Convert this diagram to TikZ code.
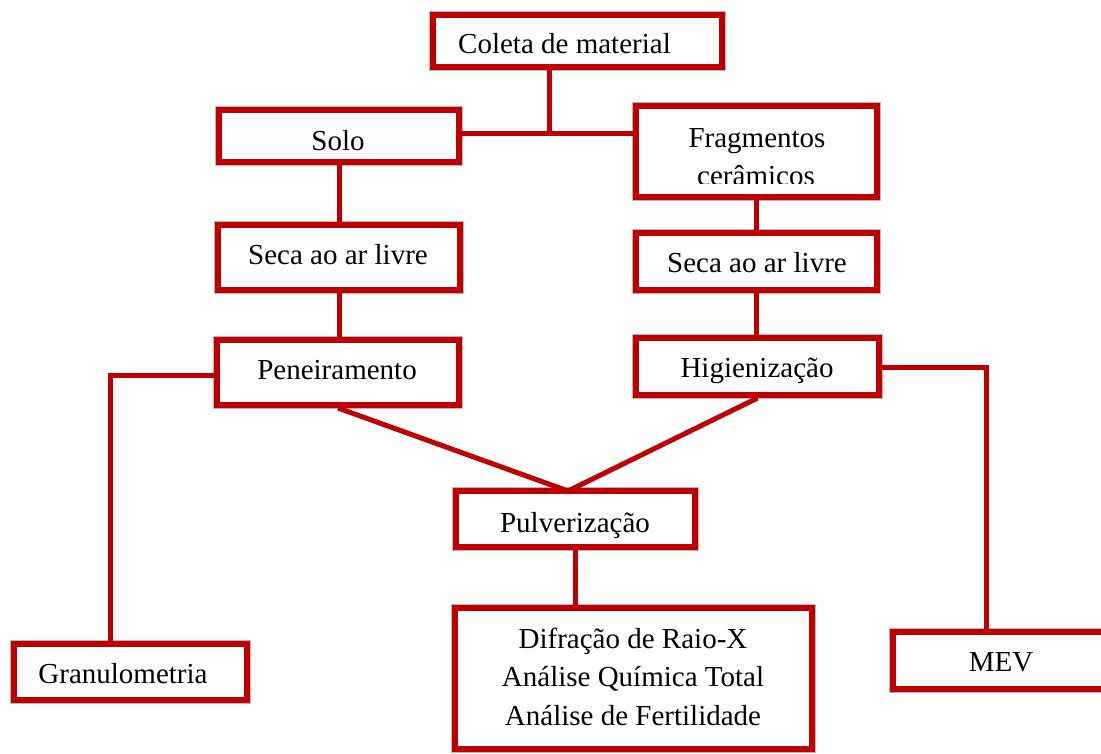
\documentclass[tikz,border=0pt]{standalone}
\usepackage{fontspec}
\setmainfont{Liberation Serif}
\definecolor{dred}{RGB}{192,0,0}
\tikzset{
  box/.style={draw=dred, line width=6pt, fill=white, inner sep=0pt, rectangle,
    preaction={draw=black!28, line width=7.6pt}},
  conn/.style={draw=dred, line width=5pt},
  lbl/.style={anchor=base, inner sep=0pt, font=\fontsize{29}{38.5}\selectfont}
}
\begin{document}
\begin{tikzpicture}[x=1pt,y=-1pt]
\path[use as bounding box] (0,0) rectangle (1101,753);
\clip (0,0) rectangle (1101,753);
\fill[white] (0,0) rectangle (1101,753);
% connectors
\coordinate (j) at (549,133);
\coordinate (gl) at (110,375);
\coordinate (gr) at (986,367);
\coordinate (pv) at (568,491);
% boxes
\node[box, minimum width=289, minimum height=52] (coleta) at (577.5,41) {};
\node[box, minimum width=240, minimum height=52] (solo) at (339,136) {};
\node[box, minimum width=241, minimum height=91] (frag) at (756.5,151.5) {};
\node[box, minimum width=242, minimum height=65] (secaL) at (339,257.5) {};
\node[box, minimum width=241, minimum height=57] (secaR) at (756.5,261.5) {};
\node[box, minimum width=242, minimum height=65] (pen) at (338,372.5) {};
\node[box, minimum width=243, minimum height=57] (hig) at (757.5,366.5) {};
\node[box, minimum width=239, minimum height=56] (pulv) at (575.5,519) {};
\node[box, minimum width=357, minimum height=141] (anal) at (633.5,678.5) {};
\node[box, minimum width=233, minimum height=56] (gran) at (130.5,672) {};
\node[box, minimum width=219, minimum height=57] (mev) at (1002.5,660.5) {};
% connectors
\draw[conn] (coleta.south -| j) -- (j);
\draw[conn] (solo.east |- j) -- (frag.west |- j);
\draw[conn] (solo.south) -- (secaL.north);
\draw[conn] (secaL.south) -- (secaL.south |- pen.north);
\draw[conn] (frag.south) -- (secaR.north);
\draw[conn] (secaR.south) -- (secaR.south |- hig.north);
\draw[conn] (pen.west |- gl) -- (gl) -- (gl |- gran.north);
\draw[conn] (hig.east |- gr) -- (gr) -- (gr |- mev.north);
\draw[conn] (pen.south) -- (pv);
\draw[conn] (hig.south) -- (pv);
\draw[conn] (pulv.south) -- (pulv.south |- anal.north);
% labels
\node[lbl, anchor=base west] (tcoleta) at (458,53) {Coleta de material};
\node[lbl] (tsolo) at (338,150) {Solo};
\node[lbl] (tfrag1) at (757,147) {Fragmentos};
\begin{scope}
\clip (633,103) rectangle (880,183.5);
\node[lbl] (tfrag2) at (756,185) {cerâmicos};
\end{scope}
\node[lbl] (tsecaL) at (338,264) {Seca ao ar livre};
\node[lbl] (tsecaR) at (757,272) {Seca ao ar livre};
\node[lbl] (tpen) at (337,379) {Peneiramento};
\node[lbl] (thig) at (757,377) {Higienização};
\node[lbl] (tpulv) at (575,532) {Pulverização};
\node[lbl] (tanal1) at (633,648) {Difração de Raio-X};
\node[lbl] (tanal2) at (633,686) {Análise Química Total};
\node[lbl] (tanal3) at (633,725) {Análise de Fertilidade};
\node[lbl] (tgran) at (123,683) {Granulometria};
\node[lbl] (tmev) at (1001,671) {MEV};
\end{tikzpicture}
\end{document}
